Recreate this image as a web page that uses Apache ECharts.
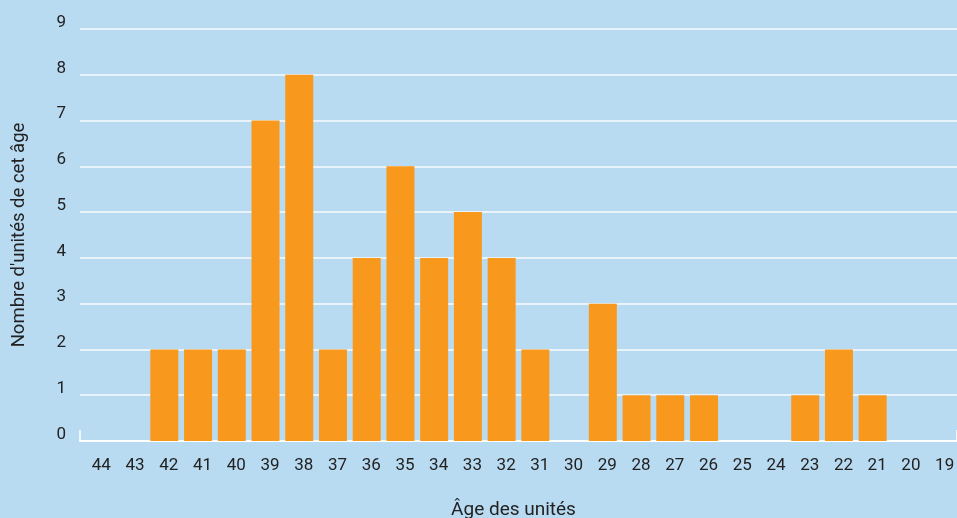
<!DOCTYPE html>
<html>
<head>
<meta charset="utf-8">
<script src="https://cdn.jsdelivr.net/npm/echarts@6/dist/echarts.min.js"></script>
<style>
  html, body { margin: 0; padding: 0; background: #b9dbf2; }
  #chart { width: 957px; height: 518px; }
</style>
</head>
<body>
<div id="chart"></div>
<script>
// Âges des unités (de 44 à 19 ans) et nombre d'unités pour chaque âge
const ages = ['44','43','42','41','40','39','38','37','36','35','34','33','32','31','30','29','28','27','26','25','24','23','22','21','20','19'];
const counts = [0, 0, 2, 2, 2, 7, 8, 2, 4, 6, 4, 5, 4, 2, 0, 3, 1, 1, 1, 0, 0, 1, 2, 1, 0, 0];
const yTicks = [0, 9, 1]; // min, max, interval

const FONT = "Roboto, 'Liberation Sans', sans-serif";
const TEXT = '#222222';

const chart = echarts.init(document.getElementById('chart'), null, { renderer: 'canvas' });
chart.setOption({
  backgroundColor: '#b9dbf2',
  animation: false,
  grid: { left: 80, right: 0, top: 29, bottom: 77, containLabel: false, outerBoundsMode: 'none' },
  xAxis: {
    type: 'category',
    data: ages,
    name: 'Âge des unités',
    nameLocation: 'middle',
    nameGap: 60,
    nameTextStyle: { fontFamily: FONT, fontSize: 19, color: TEXT, padding: [0, 10, 0, 0] },
    axisLine: { show: true, lineStyle: { color: '#ffffff', width: 2 } },
    axisTick: {
      show: true, inside: true, length: 11,
      interval: function (index) { return index === 0; },
      lineStyle: { color: '#ffffff', width: 1.5 }
    },
    axisLabel: {
      fontFamily: FONT, fontSize: 17, color: TEXT, margin: 16,
      padding: [0, 0, 0, 9]
    },
    splitLine: { show: false }
  },
  yAxis: {
    type: 'value',
    min: yTicks[0], max: yTicks[1], interval: yTicks[2],
    name: "Nombre d'unités de cet âge",
    nameLocation: 'middle',
    nameGap: 51,
    nameRotate: 90,
    nameTextStyle: { fontFamily: FONT, fontSize: 18.5, color: TEXT },
    axisLine: { show: false },
    axisTick: { show: false },
    axisLabel: {
      fontFamily: FONT, fontSize: 17, color: TEXT, margin: 14,
      verticalAlign: 'bottom', lineHeight: 13
    },
    splitLine: { show: true, lineStyle: { color: 'rgba(255,255,255,0.9)', width: 1.5 } }
  },
  series: [{
    type: 'bar',
    data: counts,
    barWidth: 28,
    itemStyle: { color: '#f8991e' }
  }]
});
</script>
</body>
</html>
